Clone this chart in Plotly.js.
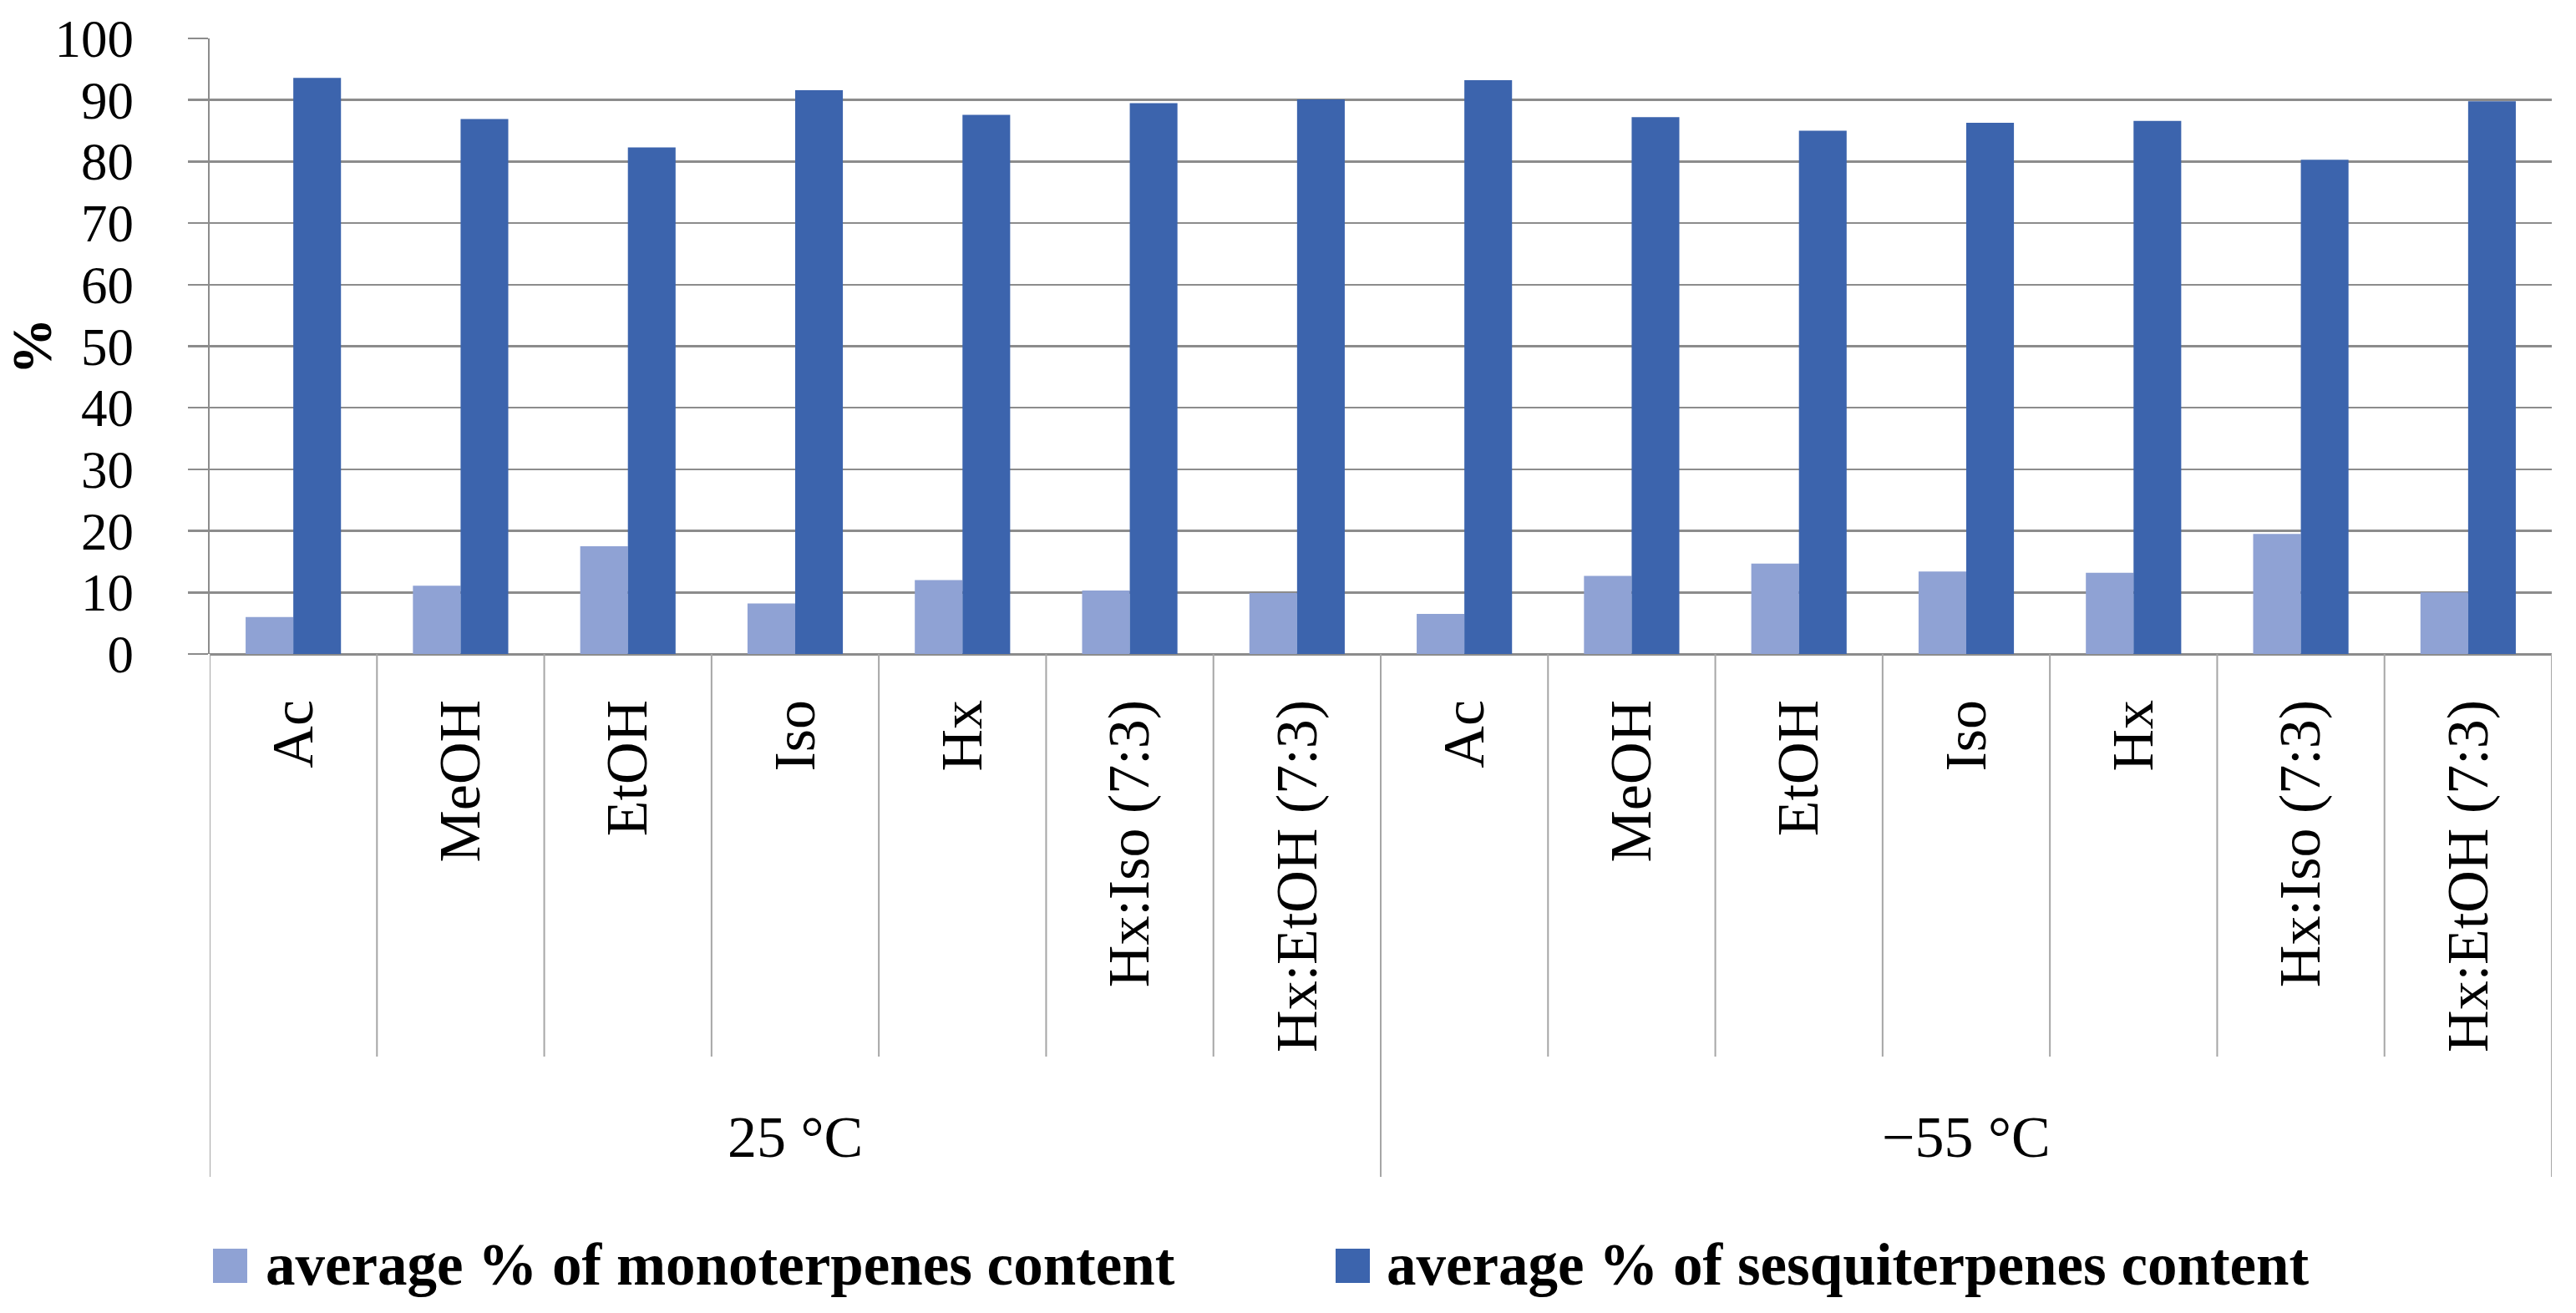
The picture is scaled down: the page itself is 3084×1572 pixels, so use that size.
<!DOCTYPE html>
<html>
<head>
<meta charset="utf-8">
<script src="https://cdn.plot.ly/plotly-3.0.1.min.js"></script>
<style>html,body{margin:0;padding:0;background:#fff;}#chart{width:3084px;height:1572px;}</style>
</head>
<body>
<div id="chart"></div>
<script>
// ---- data ----
const groups = ["25 °C", "25 °C", "25 °C", "25 °C", "25 °C", "25 °C", "25 °C",
                "\u221255 °C", "\u221255 °C", "\u221255 °C", "\u221255 °C", "\u221255 °C", "\u221255 °C", "\u221255 °C"];
const solvents = ["Ac", "MeOH", "EtOH", "Iso", "Hx", "Hx:Iso (7:3)", "Hx:EtOH (7:3)",
                  "Ac", "MeOH", "EtOH", "Iso", "Hx", "Hx:Iso (7:3)", "Hx:EtOH (7:3)"];
const monoterpenes   = [6.0, 11.1, 17.5, 8.2, 12.0, 10.3, 9.9, 6.5, 12.7, 14.7, 13.4, 13.2, 19.5, 10.0];
const sesquiterpenes = [93.6, 86.9, 82.3, 91.6, 87.6, 89.5, 90.1, 93.2, 87.2, 85.0, 86.3, 86.6, 80.3, 89.8];
const seriesNames = ["average % of monoterpenes content", "average % of sesquiterpenes content"];
const yTicks = [0, 10, 20, 30, 40, 50, 60, 70, 80, 90, 100];

// ---- layout constants ----
const W = 3084, H = 1572;
const M = {l: 251, r: 29, t: 46, b: 789};
const plotW = W - M.l - M.r, plotH = H - M.t - M.b;
const px2x = p => (p - M.l) / plotW;
const px2y = p => (H - M.b - p) / plotH;

const lightBlue = "#8FA2D4", darkBlue = "#3C64AD";
const gridCol = "#8C8C8C", divCol = "#A6A6A6";
const FONT = "Liberation Serif, Times New Roman, serif";

// unique category keys so repeated solvent names stay separate
const keys = solvents.map((s, i) => groups[i] + " | " + s);

const traces = [
  {type: "bar", name: seriesNames[0], x: keys, y: monoterpenes,
   marker: {color: lightBlue}, showlegend: false, hoverinfo: "y"},
  {type: "bar", name: seriesNames[1], x: keys, y: sesquiterpenes,
   marker: {color: darkBlue}, showlegend: false, hoverinfo: "y"}
];

// divider lines under the category axis
const shapes = [];
const groupBounds = [];
groups.forEach((g, i) => { if (i === 0 || groups[i - 1] !== g) groupBounds.push(i - 0.5); });
groupBounds.push(groups.length - 0.5);
for (let i = 1; i < solvents.length; i++) {
  const b = i - 0.5;
  if (groupBounds.indexOf(b) >= 0) continue;
  shapes.push({type: "line", xref: "x", yref: "paper", x0: b, x1: b, y0: 0, y1: px2y(1265),
               line: {color: divCol, width: 2}});
}
groupBounds.forEach(b => {
  shapes.push({type: "line", xref: "x", yref: "paper", x0: b, x1: b, y0: 0, y1: px2y(1409),
               line: {color: divCol, width: 2}});
});

// group labels
const annotations = [];
const uniqGroups = [...new Set(groups)];
uniqGroups.forEach(g => {
  const idx = groups.map((v, i) => v === g ? i : -1).filter(i => i >= 0);
  const c = (idx[0] + idx[idx.length - 1]) / 2;
  annotations.push({xref: "x", yref: "paper", x: c, y: px2y(1361), text: g, showarrow: false,
                    xanchor: "center", yanchor: "middle", font: {family: FONT, size: 70, color: "#000"}});
});

// legend (drawn as squares + text)
const legendItems = [
  {name: seriesNames[0], color: lightBlue, sq: 255, tx: 316},
  {name: seriesNames[1], color: darkBlue, sq: 1599, tx: 1658}
];
legendItems.forEach(it => {
  shapes.push({type: "rect", xref: "paper", yref: "paper",
               x0: px2x(it.sq), x1: px2x(it.sq + 41), y0: px2y(1495), y1: px2y(1536),
               fillcolor: it.color, line: {width: 0}});
  annotations.push({xref: "paper", yref: "paper", x: px2x(it.tx), y: px2y(1514), text: "<b>" + it.name + "</b>",
                    showarrow: false, xanchor: "left", yanchor: "middle",
                    font: {family: FONT, size: 71, color: "#000"}});
});

const layout = {
  width: W, height: H,
  margin: M,
  paper_bgcolor: "#fff", plot_bgcolor: "#fff",
  barmode: "group", bargap: 0.43, bargroupgap: 0,
  font: {family: FONT, color: "#000"},
  xaxis: {
    type: "category", range: [-0.5, solvents.length - 0.5], automargin: false,
    tickvals: keys, ticktext: solvents, tickangle: -90,
    tickfont: {family: FONT, size: 70, color: "#000"},
    ticks: "", showgrid: false, showline: false, zeroline: false,
    ticklabelstandoff: 40
  },
  yaxis: {
    range: [0, 100], automargin: false, tickvals: yTicks,
    tickfont: {family: FONT, size: 63, color: "#000"},
    ticks: "outside", ticklen: 24, tickcolor: gridCol, tickwidth: 2.5,
    showgrid: true, gridcolor: gridCol, gridwidth: 2.5,
    showline: true, linecolor: gridCol, linewidth: 2.5,
    zeroline: true, zerolinecolor: gridCol, zerolinewidth: 3,
    ticklabelstandoff: 52,
    title: {text: "<b>%</b>", font: {family: FONT, size: 68, color: "#000"}, standoff: 4}
  },
  shapes: shapes,
  annotations: annotations,
  showlegend: false
};

Plotly.newPlot("chart", traces, layout, {staticPlot: true});
</script>
</body>
</html>
